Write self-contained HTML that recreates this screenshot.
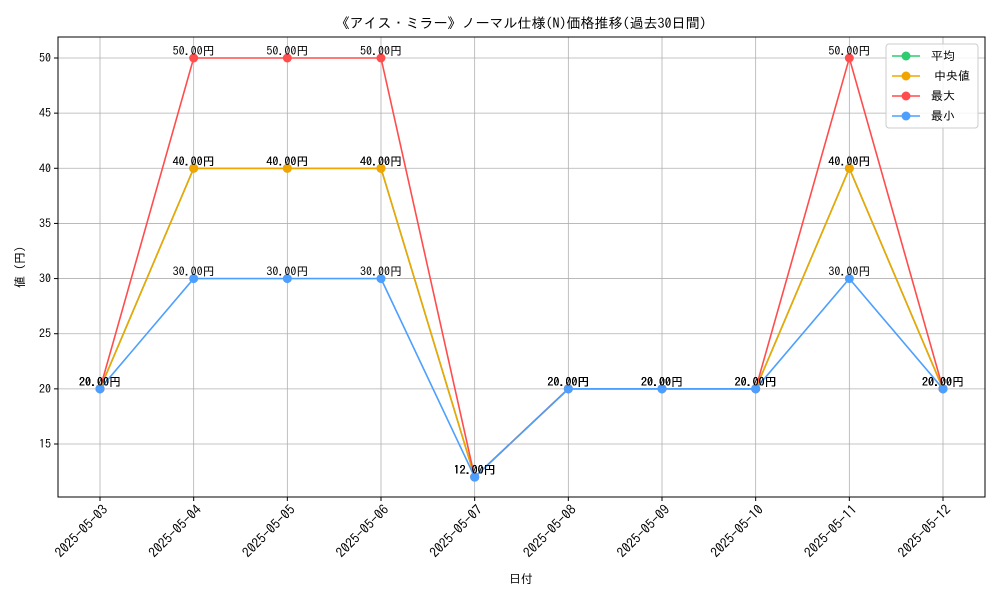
<!DOCTYPE html>
<html><head><meta charset="utf-8"><style>
body{margin:0;background:#fff}
svg text{font-family:"IPAGothic","Noto Sans CJK JP",sans-serif}
</style></head><body>
<svg id="c" width="1000" height="600" xmlns="http://www.w3.org/2000/svg"></svg>
<script>
const categories=["2025-05-03","2025-05-04","2025-05-05","2025-05-06","2025-05-07","2025-05-08","2025-05-09","2025-05-10","2025-05-11","2025-05-12"];
const meanVals=[20,40,40,40,12,20,20,20,40,20];
const medianVals=[20,40,40,40,12,20,20,20,40,20];
const maxVals=[20,50,50,50,12,20,20,20,50,20];
const minVals=[20,30,30,30,12,20,20,20,30,20];
const yTicks=[15,20,25,30,35,40,45,50];
const seriesNames=["平均","中央値","最大","最小"];
const colors=["#2ecc71","#f0a500","#ff4d4d","#4d9fff"];
const NS="http://www.w3.org/2000/svg";
const svg=document.getElementById('c');
const L=58,R=985,T=37,B=497;
const x=i=>100+i*(943-100)/(categories.length-1);
const y=v=>58+(50-v)*(444-58)/35;
function el(t,a,p){const e=document.createElementNS(NS,t);for(const k in a)e.setAttribute(k,a[k]);(p||svg).appendChild(e);return e;}
function txt(s,a,p){const e=el('text',a,p);e.textContent=s;return e;}
const grid=el('g',{});


categories.forEach((c,i)=>{
  el('line',{x1:x(i),x2:x(i),y1:T,y2:B,stroke:'#b0b0b0','stroke-width':0.8},grid);
  el('line',{x1:x(i),x2:x(i),y1:B,y2:B+4,stroke:'#000'},grid);
  const ax=x(i)+5, ay=B+10;
  const t=txt(c,{x:ax,y:ay,'font-size':13.5,'text-anchor':'end',transform:`rotate(-45 ${ax} ${ay})`,dy:5});
  
  
});
yTicks.forEach(v=>{
  el('line',{x1:L,x2:R,y1:y(v),y2:y(v),stroke:'#b0b0b0','stroke-width':0.8},grid);
  el('line',{x1:L-4,x2:L,y1:y(v),y2:y(v),stroke:'#000'},grid);
  const t=txt(String(v),{x:L-7,y:y(v)+4,'font-size':12,'text-anchor':'end'});
  
  
});
const frame=el('rect',{x:L,y:T,width:R-L,height:B-T,fill:'none',stroke:'#000','stroke-width':1});


const all=[meanVals,medianVals,maxVals,minVals];
all.forEach((vals,s)=>{
  const g=el('g',{});
  
  
  el('polyline',{points:vals.map((v,i)=>x(i)+','+y(v)).join(' '),fill:'none',stroke:colors[s],'stroke-width':1.6},g);
  vals.forEach((v,i)=>{
    const p=el('circle',{cx:x(i),cy:y(v),r:4.5,fill:colors[s]},g);
    
    
    const t=txt(v.toFixed(2)+'円',{x:x(i),y:y(v)-3,'font-size':12,'text-anchor':'middle'},g);
    
    
  });
});
const title=txt('《アイス・ミラー》ノーマル仕様(N)価格推移(過去30日間)',{x:521,y:28,'font-size':14,'text-anchor':'middle'});


const xt=txt('日付',{x:521,y:583,'font-size':12,'text-anchor':'middle'});


const yt=txt('値 (円)',{x:24,y:267,'font-size':12,'text-anchor':'middle',transform:'rotate(-90 24 267)'});


const lg=el('g',{});


el('rect',{x:886,y:44,width:92,height:84,rx:3,fill:'#fff','fill-opacity':0.85,stroke:'#ccc'},lg);
seriesNames.forEach((n,s)=>{
  const yy=56+s*20;
  const e=el('g',{},lg);
  
  
  el('line',{x1:892,x2:920,y1:yy,y2:yy,stroke:colors[s],'stroke-width':1.6},e);
  el('circle',{cx:906,cy:yy,r:4.5,fill:colors[s]},e);
  txt(n,{x:n==='中央値'?934:931,y:yy+4,'font-size':12},e);
});
</script>
</body></html>
